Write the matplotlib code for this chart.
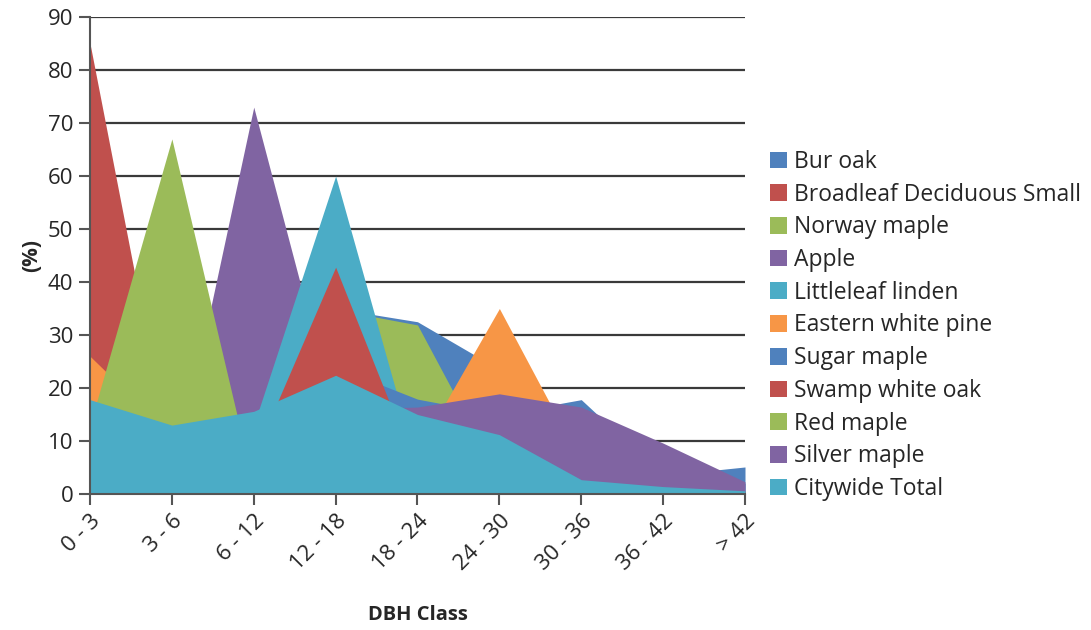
import matplotlib.pyplot as plt
from matplotlib.patches import Patch

plt.rcParams['font.family'] = ['Open Sans', 'DejaVu Sans']

dbh_classes = ['0 - 3', '3 - 6', '6 - 12', '12 - 18', '18 - 24',
               '24 - 30', '30 - 36', '36 - 42', '> 42']

# percent of each species' trees per DBH class
bur_oak = [2, 3, 4, 35, 32.5, 23.5, 10, 3, 2]
broadleaf_small = [85, 5.5, 3, 3, 2, 1, 1, 0.5, 0.5]
norway_maple = [8, 9, 10, 34.8, 31.9, 3, 1, 0.5, 0.3]
apple = [5, 1, 73, 14.5, 6, 4, 2, 1, 0.5]
littleleaf_linden = [6, 8, 13, 60, 5, 3, 2, 1, 0.5]
eastern_white_pine = [26, 11, 5, 6, 8, 35, 6, 2, 0.5]
sugar_maple = [3, 4, 6, 24, 17.9, 15, 17.8, 3.5, 5.1]
swamp_white_oak = [3, 4, 7, 42.8, 4, 2, 1, 0.5, 0.5]
red_maple = [13, 67, 1.5, 1, 1, 0.5, 0.5, 0.3, 0.2]
silver_maple = [2, 3, 5, 16, 16.4, 18.9, 16.4, 9.6, 2.3]
citywide_total = [17.8, 13, 15.6, 22.4, 15, 11.2, 2.7, 1.4, 0.6]

series_names = ['Bur oak', 'Broadleaf Deciduous Small', 'Norway maple', 'Apple',
                'Littleleaf linden', 'Eastern white pine', 'Sugar maple',
                'Swamp white oak', 'Red maple', 'Silver maple', 'Citywide Total']
series_values = [bur_oak, broadleaf_small, norway_maple, apple, littleleaf_linden,
                 eastern_white_pine, sugar_maple, swamp_white_oak, red_maple,
                 silver_maple, citywide_total]
palette = ['#4F81BD', '#C0504D', '#9BBB59', '#8064A2', '#4BACC6', '#F79646']
colors = [palette[i % len(palette)] for i in range(len(series_names))]

fig = plt.figure(figsize=(10.91, 6.30), dpi=100)
ax = fig.add_axes([90 / 1091, 136 / 630, 655 / 1091, 477 / 630])

x = list(range(len(dbh_classes)))
for vals, c in zip(series_values, colors):
    ax.fill_between(x, 0, vals, color=c, lw=0, zorder=2)

ax.set_xlim(0, len(dbh_classes) - 1)
ax.set_ylim(0, 90)
ax.set_yticks(range(0, 91, 10))
ax.set_xticks(x)
ax.set_xticklabels(dbh_classes, rotation=45, ha='right', va='top',
                   rotation_mode='anchor')

ax.grid(axis='y', color='#3a3a3a', lw=1.6, zorder=0)
ax.set_axisbelow(True)
for s in ['top', 'right']:
    ax.spines[s].set_visible(False)
for s in ['left', 'bottom']:
    ax.spines[s].set_color('#555555')
    ax.spines[s].set_linewidth(1.5)
    ax.spines[s].set_zorder(3)
ax.tick_params(axis='both', length=8, width=1.5, color='#555555',
               labelsize=16, labelcolor='#262626', pad=4)

ax.set_ylabel('(%)', fontsize=15, fontweight='bold', color='#262626', labelpad=4)
ax.set_xlabel('DBH Class', fontsize=14.5, fontweight='bold', color='#262626', labelpad=22)

handles = [Patch(facecolor=c, edgecolor='none') for c in colors]
fig.legend(handles, series_names, loc='upper left', bbox_to_anchor=(0.706, 0.762),
           frameon=False, fontsize=16.5, handlelength=0.75, handleheight=0.75,
           handletextpad=0.3, labelspacing=0.38, borderpad=0, borderaxespad=0,
           labelcolor='#262626')

fig.savefig('out.png', dpi=100)
